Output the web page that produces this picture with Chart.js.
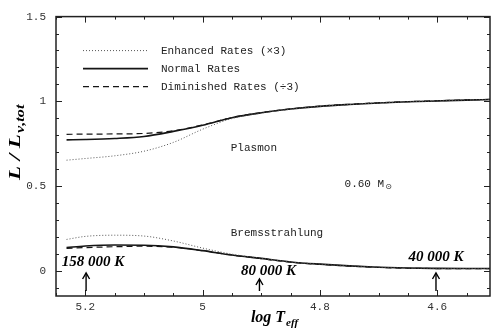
<!DOCTYPE html>
<html>
<head>
<meta charset="utf-8">
<script src="https://cdn.jsdelivr.net/npm/chart.js@4"></script>
<style>
  html, body { margin: 0; padding: 0; background: #fff; }
  #wrap { width: 493px; height: 334px; }
</style>
</head>
<body>
<div id="wrap"><canvas id="c" width="493" height="334"></canvas></div>
<script>
// Effective temperature grid (log Teff)
const logTeff = [5.232, 5.2, 5.15, 5.1, 5.05, 5.0, 4.95, 4.9, 4.85, 4.8, 4.75, 4.7, 4.65, 4.6, 4.55, 4.51];

// Plasmon neutrino fraction L / L_nu,tot
const plasmonEnhanced   = [0.652, 0.662, 0.678, 0.705, 0.757, 0.835, 0.898, 0.930, 0.953, 0.970, 0.981, 0.990, 0.997, 1.002, 1.007, 1.010];
const plasmonNormal     = [0.772, 0.774, 0.780, 0.792, 0.822, 0.858, 0.903, 0.932, 0.954, 0.970, 0.981, 0.990, 0.997, 1.002, 1.007, 1.010];
const plasmonDiminished = [0.805, 0.806, 0.807, 0.810, 0.826, 0.860, 0.904, 0.933, 0.955, 0.971, 0.982, 0.991, 0.998, 1.003, 1.008, 1.011];

// Bremsstrahlung neutrino fraction
const bremsEnhanced   = [0.184, 0.202, 0.209, 0.204, 0.175, 0.133, 0.097, 0.073, 0.051, 0.038, 0.028, 0.020, 0.015, 0.013, 0.012, 0.012];
const bremsNormal     = [0.136, 0.145, 0.151, 0.150, 0.140, 0.118, 0.092, 0.072, 0.051, 0.038, 0.028, 0.020, 0.015, 0.013, 0.012, 0.012];
const bremsDiminished = [0.131, 0.136, 0.141, 0.144, 0.138, 0.118, 0.092, 0.071, 0.050, 0.037, 0.027, 0.019, 0.014, 0.012, 0.011, 0.011];

// Legend entries
const legendLabels = ['Enhanced Rates (\u00d73)', 'Normal Rates', 'Diminished Rates (\u00f73)'];

// Axis tick labels
const xTickValues = [5.2, 5.0, 4.8, 4.6];
const yTickValues = [0, 0.5, 1, 1.5];

// Temperature markers
const markerLabels = ['158 000 K', '80 000 K', '40 000 K'];
const markerLogT   = [5.1987, 4.9031, 4.6021];

const INK = '#151515';
const MONO = '"Liberation Mono", "DejaVu Sans Mono", monospace';
const SERIF = '"Liberation Serif", "DejaVu Serif", serif';

const styles = [
  { borderColor: '#555', borderWidth: 1, borderDash: [1, 2] },
  { borderColor: INK, borderWidth: 1.6, borderDash: [] },
  { borderColor: INK, borderWidth: 1.2, borderDash: [6, 4] }
];

function series(vals, st, label) {
  return Object.assign({
    label: label,
    data: logTeff.map((x, i) => ({ x: x, y: vals[i] })),
    pointRadius: 0,
    fill: false,
    cubicInterpolationMode: 'monotone'
  }, st);
}

const datasets = [
  series(plasmonEnhanced, styles[0], legendLabels[0]),
  series(plasmonNormal, styles[1], legendLabels[1]),
  series(plasmonDiminished, styles[2], legendLabels[2]),
  series(bremsEnhanced, styles[0], legendLabels[0]),
  series(bremsNormal, styles[1], legendLabels[1]),
  series(bremsDiminished, styles[2], legendLabels[2])
];

// Frame with inward ticks on all four sides, legend, labels and markers
const decor = {
  id: 'decor',
  afterDatasetsDraw(chart) {
    const ctx = chart.ctx;
    const a = chart.chartArea;
    const xs = chart.scales.x, ys = chart.scales.y;
    ctx.save();

    // frame
    ctx.strokeStyle = '#222';
    ctx.lineWidth = 1.5;
    ctx.strokeRect(a.left, a.top, a.right - a.left, a.bottom - a.top);

    // ticks
    ctx.lineWidth = 1;
    ctx.beginPath();
    for (let k = 0; k <= 15; k++) {
      const v = 4.55 + k * 0.05;
      if (v > xs.max + 1e-6 || v < xs.min - 1e-6) continue;
      const px = Math.round(xs.getPixelForValue(v)) + 0.5;
      const major = Math.abs(v * 5 - Math.round(v * 5)) < 1e-6;
      const len = major ? 6 : 3;
      ctx.moveTo(px, a.bottom); ctx.lineTo(px, a.bottom - len);
      ctx.moveTo(px, a.top); ctx.lineTo(px, a.top + len);
    }
    for (let k = -1; k <= 15; k++) {
      const v = k * 0.1;
      const py = Math.round(ys.getPixelForValue(v)) + 0.5;
      const major = k % 5 === 0;
      const len = major ? 6 : 3;
      ctx.moveTo(a.left, py); ctx.lineTo(a.left + len, py);
      ctx.moveTo(a.right, py); ctx.lineTo(a.right - len, py);
    }
    ctx.stroke();

    // legend
    ctx.font = '11px ' + MONO;
    ctx.fillStyle = '#222';
    ctx.textBaseline = 'middle';
    ctx.textAlign = 'left';
    const legY = [a.top + 34, a.top + 52, a.top + 70];
    for (let i = 0; i < 3; i++) {
      const ds = chart.data.datasets[i];
      ctx.strokeStyle = ds.borderColor;
      ctx.lineWidth = ds.borderWidth;
      ctx.setLineDash(ds.borderDash);
      ctx.beginPath();
      ctx.moveTo(a.left + 27, legY[i]);
      ctx.lineTo(a.left + 92, legY[i]);
      ctx.stroke();
      ctx.setLineDash([]);
      ctx.fillText(legendLabels[i], a.left + 105, legY[i]);
    }

    // curve labels
    ctx.fillText('Plasmon', xs.getPixelForValue(4.952), ys.getPixelForValue(0.726));
    ctx.fillText('Bremsstrahlung', xs.getPixelForValue(4.952), ys.getPixelForValue(0.222));
    const mx = xs.getPixelForValue(4.758), my = ys.getPixelForValue(0.512);
    ctx.fillText('0.60 M', mx, my);
    const mw = ctx.measureText('0.60 M').width;
    ctx.font = '8px ' + '"DejaVu Sans", sans-serif';
    ctx.fillText('\u2299', mx + mw + 1, my + 3);

    // temperature markers
    const labelDx = [7, 9, 0];
    const labelY = [262, 271, 257];
    const tipY = [273, 279, 273];
    ctx.font = 'italic bold 15px ' + SERIF;
    ctx.textAlign = 'center';
    ctx.fillStyle = '#000';
    ctx.strokeStyle = '#000';
    ctx.lineWidth = 1.4;
    for (let i = 0; i < markerLogT.length; i++) {
      const px = xs.getPixelForValue(markerLogT[i]);
      ctx.fillText(markerLabels[i], px + labelDx[i], labelY[i]);
      ctx.beginPath();
      ctx.moveTo(px, a.bottom - 5);
      ctx.lineTo(px, tipY[i] + 1);
      ctx.stroke();
      ctx.beginPath();
      ctx.moveTo(px - 3.5, tipY[i] + 6);
      ctx.lineTo(px, tipY[i]);
      ctx.lineTo(px + 3.5, tipY[i] + 6);
      ctx.stroke();
    }

    // axis titles
    ctx.textAlign = 'left';
    ctx.textBaseline = 'alphabetic';
    // x title: log T_eff
    ctx.font = 'italic bold 16px ' + SERIF;
    const xt = 'log T';
    const xw = ctx.measureText(xt).width;
    ctx.font = 'italic bold 11px ' + SERIF;
    const sw = ctx.measureText('eff').width;
    let x0 = (a.left + a.right) / 2 - (xw + sw) / 2 + 1;
    ctx.font = 'italic bold 16px ' + SERIF;
    ctx.fillText(xt, x0, 322);
    ctx.font = 'italic bold 11px ' + SERIF;
    ctx.fillText('eff', x0 + xw + 1, 326);

    // y title: L / L_nu,tot
    ctx.translate(20, 143);
    ctx.rotate(-Math.PI / 2);
    ctx.scale(1.35, 1);
    ctx.font = 'italic bold 17px ' + SERIF;
    const yt = 'L / L';
    const yw = ctx.measureText(yt).width;
    ctx.font = 'italic bold 12px ' + SERIF;
    const ysw = ctx.measureText('\u03bd,tot').width;
    const y0 = -(yw + ysw) / 2;
    ctx.font = 'italic bold 17px ' + SERIF;
    ctx.fillText(yt, y0, 0);
    ctx.font = 'italic bold 12px ' + SERIF;
    ctx.fillText('\u03bd,tot', y0 + yw + 1, 4);

    ctx.restore();
  }
};

new Chart(document.getElementById('c'), {
  type: 'line',
  data: { datasets: datasets },
  options: {
    responsive: false,
    animation: false,
    layout: { padding: { left: 0, right: 3, top: 9, bottom: 0 } },
    plugins: { legend: { display: false }, tooltip: { enabled: false } },
    scales: {
      x: {
        type: 'linear',
        reverse: true,
        min: 4.51,
        max: 5.25,
        grid: { display: false, drawTicks: false },
        border: { display: false },
        afterBuildTicks(s) { s.ticks = xTickValues.map(v => ({ value: v })); },
        afterFit(s) { s.height = 38; },
        ticks: {
          padding: 4,
          color: '#333',
          font: { family: MONO, size: 11 },
          callback: v => String(+v.toFixed(2))
        }
      },
      y: {
        type: 'linear',
        min: -0.15,
        max: 1.5,
        grid: { display: false, drawTicks: false },
        border: { display: false },
        afterBuildTicks(s) { s.ticks = yTickValues.map(v => ({ value: v })); },
        afterFit(s) { s.width = 56; },
        ticks: {
          padding: 10,
          color: '#333',
          font: { family: MONO, size: 11 },
          callback: v => String(+v.toFixed(2))
        }
      }
    }
  },
  plugins: [decor]
});
</script>
</body>
</html>
